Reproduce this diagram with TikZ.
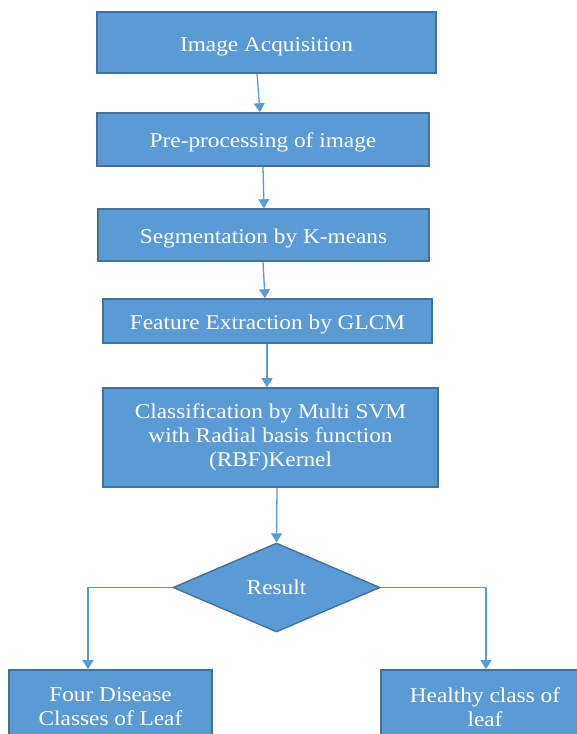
\documentclass[tikz,border=0pt]{standalone}
\usepackage{fontspec}
\setmainfont{Liberation Serif}[FakeStretch=1.11]
\usetikzlibrary{shapes.geometric,arrows.meta}
\definecolor{boxfill}{HTML}{5B9BD5}
\definecolor{boxline}{HTML}{41719C}
\definecolor{arrline}{HTML}{5B9BD5}
\begin{document}
\begin{tikzpicture}[x=1pt,y=-1pt,
  box/.style={draw=boxline, line width=1.6pt, fill=boxfill, text=white,
    inner sep=0pt, align=center, font=\fontsize{21}{24}\selectfont},
  dec/.style={diamond, draw=boxline, line width=1.4pt, fill=boxfill, text=white,
    inner sep=0pt, aspect=2.33, font=\fontsize{21}{24}\selectfont},
  arr/.style={draw=arrline, line width=1.3pt, -{Triangle[width=11pt,length=9pt]}}]
\clip (0,0) rectangle (577,734);
\node[box, minimum width=339pt, minimum height=61pt, text height=18pt, text depth=0pt] (b1) at (266.5,42.5) {Image Acquisition};
\node[box, minimum width=332pt, minimum height=53pt, text height=16pt, text depth=0pt] (b2) at (263,139.5) {Pre-processing of image};
\node[box, minimum width=331pt, minimum height=52pt, text height=17pt, text depth=0pt] (b3) at (263.5,235) {Segmentation by K-means};
\node[box, minimum width=329pt, minimum height=44pt, text height=16pt, text depth=0pt] (b4) at (267.5,321) {Feature Extraction by GLCM};
\node[box, minimum width=335pt, minimum height=99pt] (b5) at (270.5,437.5) {Classification by Multi SVM\\with Radial basis function\\(RBF)Kernel};
\node[dec, minimum width=207pt, minimum height=89pt] (d) at (276.5,587.5) {Result};
\node[box, minimum width=203pt, minimum height=74pt] (lb) at (110.5,707) {Four Disease\\Classes of Leaf};
\node[box, minimum width=208pt, minimum height=74pt] (rb) at (485,707) {Healthy class of\\leaf};
\draw[arr] ([xshift=-9.5pt]b1.south) -- ([xshift=-3pt]b2.north);
\draw[arr] (b2.south) -- ([xshift=0.5pt]b3.north);
\draw[arr] ([xshift=-0.5pt]b3.south) -- ([xshift=-2.5pt]b4.north);
\draw[arr] ([xshift=-0.5pt]b4.south) -- ([xshift=-3.5pt]b5.north);
\draw[arr] ([xshift=6.5pt]b5.south) -- (d.north);
\draw[arr] (d.west) -| ([xshift=-22.5pt]lb.north);
\draw[arr] (d.east) -| ([xshift=1pt]rb.north);
\end{tikzpicture}
\end{document}
